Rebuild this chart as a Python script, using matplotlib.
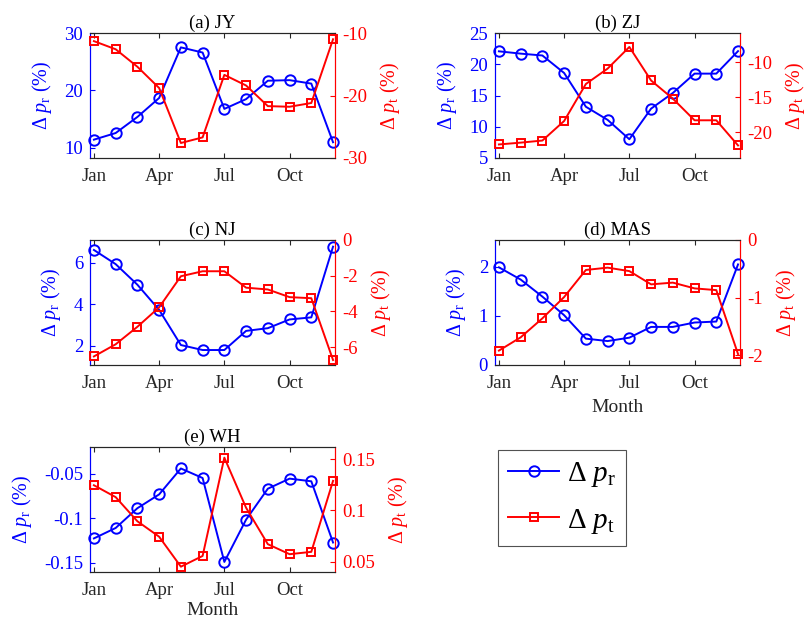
import matplotlib
matplotlib.use("Agg")
import matplotlib.pyplot as plt
from matplotlib.lines import Line2D
from matplotlib.ticker import FuncFormatter

plt.rcParams['font.family'] = ['Liberation Serif', 'DejaVu Serif']
plt.rcParams['mathtext.fontset'] = 'custom'
plt.rcParams['mathtext.rm'] = 'Liberation Serif'
plt.rcParams['mathtext.it'] = 'Liberation Serif:italic'
plt.rcParams['axes.unicode_minus'] = False

# ---------------- data ----------------
months = list(range(1, 13))
month_ticks = [1, 4, 7, 10]
month_labels = ['Jan', 'Apr', 'Jul', 'Oct']

titles = ['(a) JY', '(b) ZJ', '(c) NJ', '(d) MAS', '(e) WH']

jy_r = [11.45, 12.6, 15.4, 18.7, 27.5, 26.6, 16.8, 18.5, 21.7, 21.8, 21.2, 11.0]
jy_t = [-11.3, -12.6, -15.4, -18.8, -27.6, -26.7, -16.7, -18.4, -21.7, -21.8, -21.2, -11.0]
zj_r = [22.07, 21.7, 21.4, 18.6, 13.2, 11.1, 8.0, 12.9, 15.4, 18.5, 18.5, 22.1]
zj_t = [-21.76, -21.5, -21.2, -18.4, -13.1, -10.9, -7.8, -12.6, -15.2, -18.3, -18.3, -21.9]
nj_r = [6.61, 5.93, 4.94, 3.73, 2.04, 1.80, 1.80, 2.72, 2.85, 3.27, 3.37, 6.77]
nj_t = [-6.52, -5.84, -4.86, -3.77, -2.03, -1.75, -1.75, -2.67, -2.77, -3.20, -3.26, -6.72]
mas_r = [1.99, 1.74, 1.39, 1.01, 0.53, 0.48, 0.55, 0.77, 0.77, 0.86, 0.88, 2.05]
mas_t = [-1.92, -1.69, -1.36, -0.99, -0.52, -0.48, -0.54, -0.77, -0.74, -0.84, -0.87, -1.98]
wh_r = [-0.1228, -0.1111, -0.0889, -0.0734, -0.0443, -0.055, -0.1492, -0.1017,
        -0.067, -0.0557, -0.0587, -0.1274]
wh_t = [0.1246, 0.113, 0.0894, 0.0743, 0.045, 0.0555, 0.1516, 0.1026,
        0.067, 0.0572, 0.0595, 0.1289]

series_r = [jy_r, zj_r, nj_r, mas_r, wh_r]
series_t = [jy_t, zj_t, nj_t, mas_t, wh_t]

ylim_r = [(8.26, 30), (5, 25), (1.08, 7.09), (-0.01, 2.55), (-0.1605, -0.0202)]
ylim_t = [(-30, -10), (-23.7, -5.8), (-7, 0), (-2.17, 0), (0.0398, 0.162)]
yticks_r = [[10, 20, 30], [5, 10, 15, 20, 25], [2, 4, 6], [0, 1, 2], [-0.15, -0.1, -0.05]]
yticks_t = [[-30, -20, -10], [-20, -15, -10], [-6, -4, -2, 0], [-2, -1, 0], [0.05, 0.1, 0.15]]

# ---------------- layout ----------------
W, H = 806, 621
fig = plt.figure(figsize=(W / 100, H / 100), dpi=100)

col_left = [90, 495]
row_top = [33, 240, 447]
aw, ah = 245, 125
positions = [(0, 0), (0, 1), (1, 0), (1, 1), (2, 0)]

BLUE = (0, 0, 1)
RED = (1, 0, 0)
DARK = '#262626'
fmt = FuncFormatter(lambda v, p: '%g' % v)

lab_r = r'$\Delta\ p_{\rm r}$ (%)'
lab_t = r'$\Delta\ p_{\rm t}$ (%)'
FS = 13.5

for i, (r, c) in enumerate(positions):
    x0 = col_left[c] / W
    y0 = 1 - (row_top[r] + ah) / H
    ax = fig.add_axes([x0, y0, aw / W, ah / H])
    ax2 = ax.twinx()

    ax.plot(months, series_r[i], '-o', color=BLUE, lw=1.4, ms=7.5, mfc='none',
            mew=1.4, clip_on=False, zorder=3)
    ax2.plot(months, series_t[i], '-s', color=RED, lw=1.4, ms=5.5, mfc='none',
             mew=1.4, clip_on=False, zorder=3)

    ax.set_xlim(0.82, 12.09)
    ax.set_ylim(*ylim_r[i])
    ax2.set_ylim(*ylim_t[i])
    ax.set_xticks(month_ticks)
    ax.set_xticklabels(month_labels)
    ax.set_yticks(yticks_r[i])
    ax2.set_yticks(yticks_t[i])
    ax.yaxis.set_major_formatter(fmt)
    ax2.yaxis.set_major_formatter(fmt)

    for a in (ax, ax2):
        for s in a.spines.values():
            s.set_linewidth(0.8)
            s.set_color(DARK)
        a.spines['left'].set_color(BLUE)
        a.spines['right'].set_color(RED)

    ax.tick_params(axis='x', direction='in', top=True, length=3.5, width=0.8,
                   colors=DARK, labelsize=FS, pad=7, labelcolor=DARK)
    ax.tick_params(axis='y', direction='in', length=3.5, width=0.8, colors=BLUE,
                   labelsize=FS, pad=5)
    ax2.tick_params(axis='y', direction='in', length=3.5, width=0.8, colors=RED,
                    labelsize=FS, pad=5)

    ax.set_ylabel(lab_r, color=BLUE, fontsize=14.5, labelpad=7.5)
    ax2.set_ylabel(lab_t, color=RED, fontsize=14.5, labelpad=8)
    ax.set_title(titles[i], fontsize=FS, pad=4, color='black')
    if i == 3:
        ax.set_xlabel('Month', fontsize=14, color=DARK, labelpad=5)
    elif i == 4:
        ax.set_xlabel('Month', fontsize=14, color=DARK, labelpad=2.5)

# ---------------- legend ----------------
h1 = Line2D([], [], color=BLUE, marker='o', lw=1.4, ms=7.5, mfc='none', mew=1.4)
h2 = Line2D([], [], color=RED, marker='s', lw=1.4, ms=5.5, mfc='none', mew=1.4)
leg = fig.legend([h1, h2], [r'$\Delta\ p_{\rm r}$', r'$\Delta\ p_{\rm t}$'],
                 loc='upper left', bbox_to_anchor=(498 / W, 1 - 450 / H),
                 fontsize=21, frameon=True, fancybox=False, handlelength=1.75,
                 handletextpad=0.25, borderpad=0.35, labelspacing=0.6,
                 borderaxespad=0)
leg.get_frame().set_edgecolor(DARK)
leg.get_frame().set_linewidth(0.8)

fig.savefig('out.png', dpi=100)
